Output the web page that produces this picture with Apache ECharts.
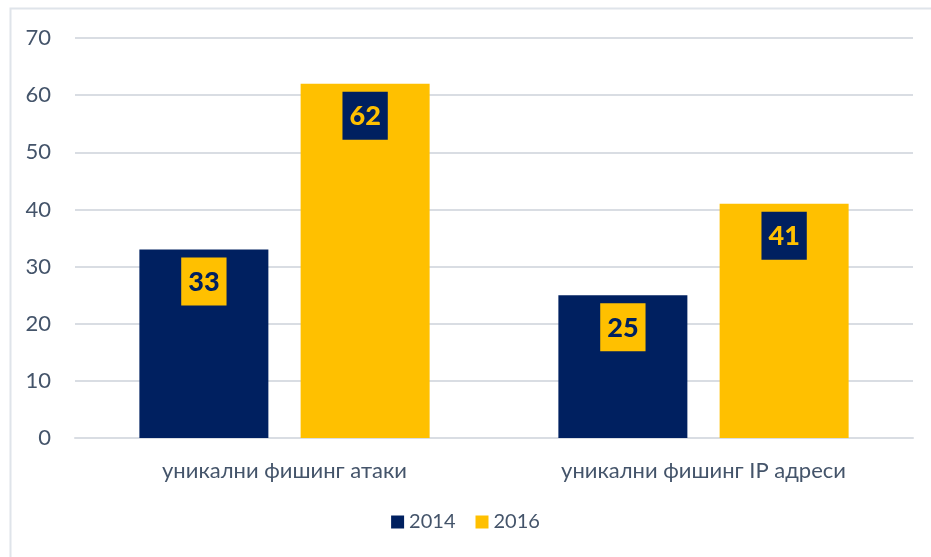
<!DOCTYPE html>
<html><head><meta charset="utf-8">
<script src="https://cdn.jsdelivr.net/npm/echarts@6/dist/echarts.min.js"></script>
<style>html,body{margin:0;padding:0;background:#fff}#c{width:931px;height:557px}</style>
</head><body><div id="c"></div>
<script>
var categories = ['уникални фишинг атаки', 'уникални фишинг IP адреси'];
var values2014 = [33, 25];
var values2016 = [62, 41];
var yTicks = [0, 10, 20, 30, 40, 50, 60, 70];
var NAVY = '#002060', GOLD = '#FFC000';
var FONT = 'Lato, "Open Sans", sans-serif';
var chart = echarts.init(document.getElementById('c'));
function lbl(bg, fg) {
  return { show: true, position: 'insideTop', distance: 8, backgroundColor: bg, color: fg,
    fontFamily: FONT, fontWeight: 900, fontSize: 27, padding: [9, 7, 7, 7], lineHeight: 32 };
}
chart.setOption({
  animation: false,
  graphic: [{ type: 'rect', shape: { x: 10.5, y: 8.5, width: 1000, height: 1000 },
    style: { fill: 'none', stroke: '#dfe4ea', lineWidth: 2 } }],
  grid: { left: 75, right: 18, top: 38, bottom: 119 },
  legend: { bottom: 20, left: 'center', itemWidth: 13, itemHeight: 13, itemGap: 20,
    icon: 'rect', textStyle: { fontFamily: FONT, fontSize: 20, color: '#44546a' },
    data: ['2014', '2016'] },
  xAxis: { type: 'category', data: categories,
    axisLine: { lineStyle: { color: '#d9dde3', width: 2 } }, axisTick: { show: false },
    axisLabel: { fontFamily: FONT, fontSize: 22, color: '#44546a', margin: 22 } },
  yAxis: { type: 'value', min: yTicks[0], max: yTicks[yTicks.length - 1], interval: 10,
    axisLine: { show: false }, axisTick: { show: false },
    splitLine: { lineStyle: { color: '#d9dde3', width: 2 } },
    axisLabel: { fontFamily: FONT, fontSize: 22, color: '#44546a', margin: 24 } },
  series: [
    { name: '2014', type: 'bar', data: values2014, itemStyle: { color: NAVY },
      barWidth: 129, barGap: '25%', label: lbl(GOLD, NAVY) },
    { name: '2016', type: 'bar', data: values2016, itemStyle: { color: GOLD },
      barWidth: 129, barGap: '25%', label: lbl(NAVY, GOLD) }
  ]
});
</script></body></html>
